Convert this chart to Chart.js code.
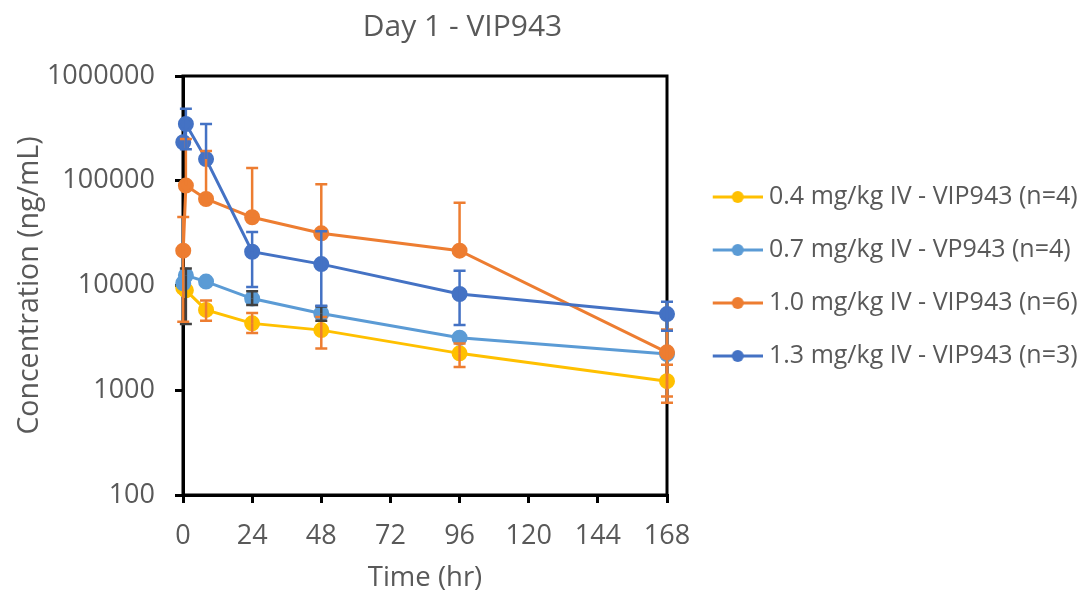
<!DOCTYPE html>
<html>
<head>
<meta charset="utf-8">
<script src="https://cdn.jsdelivr.net/npm/chart.js@4.4.1/dist/chart.umd.min.js"></script>
<style>
  html, body { margin: 0; padding: 0; background: #fff; }
  #wrap { width: 1081px; height: 595px; position: relative; }
</style>
</head>
<body>
<div id="wrap"><canvas id="PkChart"></canvas></div>
<script>
// Sampling times (hr) and axis ticks
const times = [0.083, 1, 8, 24, 48, 96, 168];
const xTicks = [0, 24, 48, 72, 96, 120, 144, 168];
const yTicks = [100, 1000, 10000, 100000, 1000000];

const seriesNames = [
    '0.4 mg/kg IV - VIP943 (n=4)',
    '0.7 mg/kg IV - VP943 (n=4)',
    '1.0 mg/kg IV - VIP943 (n=6)',
    '1.3 mg/kg IV - VIP943 (n=3)'
];

// Mean concentration (ng/mL)
const dose04 = [9500, 9000, 5850, 4350, 3750, 2250, 1220];
const dose07 = [10500, 12500, 10900, 7500, 5400, 3170, 2220];
const dose10 = [21500, 90000, 67000, 44800, 31500, 21500, 2300];
const dose13 = [233000, 348000, 161000, 21000, 16000, 8300, 5340];

// Error bar ends (null = not visible)
const dose04Hi = [null, null, 7200, 5450, 5000, 2800, 1750];
const dose04Lo = [null, null, 4600, 3520, 2510, 1670, 870];
const dose07Hi = [null, 14500, null, 8800, 6300, null, null];
const dose07Lo = [null, 4300, null, 6500, 4600, null, null];
const dose10Hi = [45000, 250000, 192000, 132000, 92500, 61800, 3800];
const dose10Lo = [4500, null, null, null, null, null, 760];
const dose13Hi = [null, 488000, 348000, 32500, 33000, 13800, 7000];
const dose13Lo = [null, 200000, null, 9700, 6400, 4200, 3700];

const textColor = '#595959';
Chart.defaults.font.family = "'Open Sans', sans-serif";
Chart.defaults.color = textColor;

function legendIcon(color) {
    const c = document.createElement('canvas');
    c.width = 74; c.height = 16;
    const g = c.getContext('2d');
    g.strokeStyle = color; g.lineWidth = 3;
    g.beginPath(); g.moveTo(24, 8); g.lineTo(74, 8); g.stroke();
    g.fillStyle = color;
    g.beginPath(); g.arc(49, 8, 6, 0, Math.PI * 2); g.fill();
    return c;
}

function makeSeries(i, values, hi, lo, color, errColor, order) {
    return {
        label: seriesNames[i],
        data: times.map((t, k) => ({ x: t, y: values[k] })),
        errHi: hi,
        errLo: lo,
        errColor: errColor,
        borderColor: color,
        backgroundColor: color,
        pointBackgroundColor: color,
        pointBorderColor: color,
        borderWidth: 3,
        pointRadius: 6.5,
        pointHoverRadius: 6.5,
        tension: 0,
        clip: false,
        order: order,
        icon: legendIcon(color)
    };
}

// error bars drawn from the same scales
const errorBars = {
    id: 'errorBars',
    afterDatasetsDraw(chart) {
        const { ctx, scales: { x, y } } = chart;
        chart.data.datasets.forEach(ds => {
            ctx.save();
            ctx.strokeStyle = ds.errColor;
            ctx.lineWidth = 2.5;
            ds.data.forEach((p, i) => {
                const px = x.getPixelForValue(p.x);
                const py = y.getPixelForValue(p.y);
                [ds.errHi[i], ds.errLo[i]].forEach(v => {
                    if (v == null) return;
                    const ey = y.getPixelForValue(v);
                    ctx.beginPath();
                    ctx.moveTo(px, py); ctx.lineTo(px, ey);
                    ctx.moveTo(px - 6, ey); ctx.lineTo(px + 6, ey);
                    ctx.stroke();
                });
            });
            ctx.restore();
        });
    }
};

// black frame round the plot area
const plotFrame = {
    id: 'plotFrame',
    beforeDatasetsDraw(chart) {
        const { ctx, chartArea: a } = chart;
        ctx.save();
        ctx.strokeStyle = '#000';
        ctx.lineWidth = 3;
        ctx.strokeRect(a.left, a.top, a.right - a.left, a.bottom - a.top);
        ctx.restore();
    }
};

// title centred like the original, legend nudged up
const placeBlocks = {
    id: 'placeBlocks',
    afterLayout(chart) {
        if (chart.titleBlock) chart.titleBlock.right = 925;
        if (chart.legend) {
            chart.legend.top -= 21;
            chart.legend.bottom -= 21;
        }
    }
};

new Chart(document.getElementById('PkChart'), {
    type: 'line',
    data: {
        datasets: [
            makeSeries(0, dose04, dose04Hi, dose04Lo, '#FFC000', '#ED7D31', 4),
            makeSeries(1, dose07, dose07Hi, dose07Lo, '#5B9BD5', '#404040', 3),
            makeSeries(2, dose10, dose10Hi, dose10Lo, '#ED7D31', '#ED7D31', 2),
            makeSeries(3, dose13, dose13Hi, dose13Lo, '#4472C4', '#4472C4', 1)
        ]
    },
    options: {
        responsive: true,
        maintainAspectRatio: false,
        animation: false,
        layout: { padding: { left: 0, right: 0, top: 0, bottom: 0 } },
        plugins: {
            title: {
                display: true,
                text: 'Day 1 - VIP943',
                color: textColor,
                font: { size: 30, weight: 'normal' },
                padding: { top: 9, bottom: 31 }
            },
            legend: {
                position: 'right',
                maxWidth: 414,
                labels: {
                    usePointStyle: true,
                    pointStyleWidth: 61.5,
                    padding: 28,
                    color: textColor,
                    font: { size: 25 },
                    generateLabels(chart) {
                        return Chart.defaults.plugins.legend.labels.generateLabels(chart)
                            .sort((a, b) => a.datasetIndex - b.datasetIndex)
                            .map(l => ({ ...l, pointStyle: chart.data.datasets[l.datasetIndex].icon }));
                    }
                }
            },
            tooltip: { enabled: false }
        },
        scales: {
            x: {
                type: 'linear',
                min: 0,
                max: 168,
                afterBuildTicks: axis => { axis.ticks = xTicks.map(v => ({ value: v })); },
                afterFit: axis => { axis.height = 100; },
                ticks: { color: textColor, font: { size: 27 }, padding: 17 },
                grid: { drawOnChartArea: false, drawTicks: true, tickLength: 8, color: '#000', lineWidth: 3 },
                border: { display: true, color: '#000', width: 3 },
                title: {
                    display: true,
                    text: 'Time (hr)',
                    color: textColor,
                    font: { size: 27.5 },
                    padding: { top: 0, bottom: 0 }
                }
            },
            y: {
                type: 'logarithmic',
                min: 100,
                max: 1000000,
                afterBuildTicks: axis => { axis.ticks = yTicks.map(v => ({ value: v })); },
                afterFit: axis => { axis.width = 183; },
                ticks: { color: textColor, font: { size: 27 }, padding: 20, callback: v => String(v) },
                grid: { drawOnChartArea: false, drawTicks: true, tickLength: 8, color: '#000', lineWidth: 3 },
                border: { display: true, color: '#000', width: 3 },
                title: {
                    display: true,
                    text: 'Concentration (ng/mL)',
                    color: textColor,
                    font: { size: 28.5 },
                    padding: { top: 13, bottom: 0 }
                }
            }
        }
    },
    plugins: [errorBars, plotFrame, placeBlocks]
});
</script>
</body>
</html>
